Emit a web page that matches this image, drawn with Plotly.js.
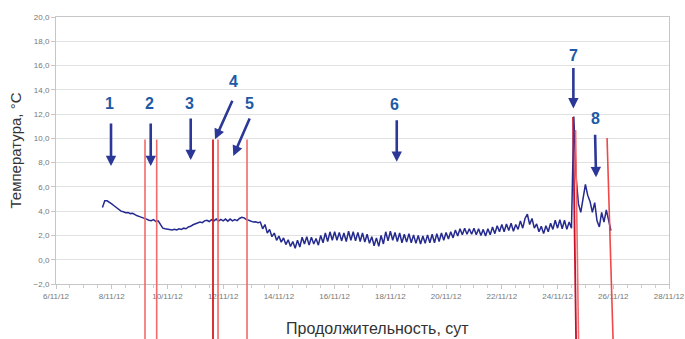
<!DOCTYPE html>
<html><head><meta charset="utf-8">
<script src="https://cdn.plot.ly/plotly-3.0.1.min.js"></script>
<style>html,body{margin:0;padding:0;background:#fff;}#chart{width:685px;height:339px;}</style>
</head><body><div id="chart"></div>
<script>
// ---- DATA: temperature readings, one every 2 hours, one array per day ----
const sampleDays = ['2012-11-07','2012-11-08','2012-11-09','2012-11-10','2012-11-11','2012-11-12',
  '2012-11-13','2012-11-14','2012-11-15','2012-11-16','2012-11-17','2012-11-18','2012-11-19',
  '2012-11-20','2012-11-21','2012-11-22','2012-11-23','2012-11-24','2012-11-25'];
const firstHour = 16; // first reading on 7/11 at 16:00
const temp07 = [4.3,4.85,4.85,4.75];
const temp08 = [4.6,4.45,4.3,4.12,4.0,3.95,3.88,3.9,3.8,3.82,3.7,3.62];
const temp09 = [3.55,3.5,3.42,3.35,3.25,3.22,3.3,3.15,3.2,2.85,2.6,2.55];
const temp10 = [2.5,2.45,2.45,2.5,2.45,2.55,2.5,2.6,2.55,2.7,2.75,2.88];
const temp11 = [2.95,3.0,3.1,3.05,3.2,3.25,3.15,3.3,3.2,3.35,3.18,3.32];
const temp12 = [3.2,3.35,3.18,3.35,3.2,3.3,3.22,3.4,3.5,3.45,3.3,3.25];
const temp13 = [3.15,3.1,3.12,3.05,3.1,2.55,2.9,2.2,2.5,1.9,2.2,1.6];
const temp14 = [1.95,1.45,1.8,1.25,1.65,1.1,1.5,0.95,1.6,1.05,1.85,1.3];
const temp15 = [1.9,1.2,1.85,1.3,1.75,1.2,2.0,1.4,2.2,1.5,2.3,1.6];
const temp16 = [2.3,1.6,2.25,1.55,2.2,1.5,2.35,1.6,2.3,1.55,2.25,1.5];
const temp17 = [2.2,1.45,2.1,1.35,1.9,1.15,1.8,1.1,2.0,1.3,2.3,1.55];
const temp18 = [2.35,1.6,2.25,1.5,2.2,1.4,2.1,1.45,2.15,1.4,2.05,1.35];
const temp19 = [2.0,1.3,1.95,1.35,2.05,1.4,2.1,1.4,2.15,1.5,2.2,1.6];
const temp20 = [2.25,1.7,2.3,1.8,2.45,1.95,2.55,2.05,2.6,2.1,2.55,2.1];
const temp21 = [2.6,2.05,2.55,2.0,2.5,1.95,2.55,2.05,2.7,2.15,2.8,2.3];
const temp22 = [2.9,2.3,2.95,2.4,3.0,2.35,2.9,2.5,3.2,2.6,3.4,3.75];
const temp23 = [2.9,3.4,2.6,2.95,2.3,2.75,2.15,2.8,2.3,3.0,2.5,3.25];
const temp24 = [2.6,3.3,2.55,3.25,2.5,3.1,2.6,11.8,6.8,4.6,3.9,5.0];
const temp25 = [6.2,5.3,4.8,3.9,4.7,3.2,2.7,3.9,3.1,4.1,3.3,2.4];
const dailyTemps = [temp07,temp08,temp09,temp10,temp11,temp12,temp13,temp14,temp15,temp16,
  temp17,temp18,temp19,temp20,temp21,temp22,temp23,temp24,temp25];

// numbered arrows: time and temperature the arrow points at
const arrowLabels = ['1','2','3','4','5','6','7','8'];
const arrowTimes = ['2012-11-07 23:23','2012-11-09 09:35','2012-11-10 20:02','2012-11-11 16:58',
  '2012-11-12 08:44','2012-11-18 05:30','2012-11-24 13:38','2012-11-25 09:11'];
const arrowTemps = [7.72,7.72,8.21,9.92,8.54,8.07,12.47,6.79];

// red event lines: top time, bottom time, top temperature
const eventTopTimes = ['2012-11-09 04:40','2012-11-09 14:44','2012-11-11 15:14','2012-11-11 19:34',
  '2012-11-12 20:32','2012-11-24 13:22','2012-11-24 15:32','2012-11-25 18:39'];
const eventBottomTimes = ['2012-11-09 04:40','2012-11-09 14:44','2012-11-11 15:14','2012-11-11 19:34',
  '2012-11-12 20:32','2012-11-24 15:58','2012-11-24 18:06','2012-11-25 23:50'];
const eventTopTemps = [9.9,9.9,9.9,9.9,9.9,11.76,10.69,10.03];

const xTickRange = ['2012-11-06','2012-11-28'];
const yTickRange = [-2,20];
const xTitle = 'Продолжительность, сут';
const yTitle = 'Температура, °С';

// ---- build series ----
const xs = [], ys = [];
dailyTemps.forEach((vals, i) => {
  const h0 = i === 0 ? firstHour : 0;
  vals.forEach((v, j) => {
    const h = h0 + 2*j;
    xs.push(sampleDays[i] + ' ' + String(h).padStart(2,'0') + ':00');
    ys.push(v);
  });
});

const trace = {x: xs, y: ys, type: 'scatter', mode: 'lines',
  line: {color: '#252a8e', width: 1.5}, hoverinfo: 'skip', showlegend: false};

const font = 'Arial, Liberation Sans, sans-serif';

// arrow styling (pixel offsets relative to the arrow head)
const arrowTail = [[0,-44],[0,-44],[0,-43],[18,-40],[17,-39],[0,-43],[0,-42],[-1,-44]];
const labelShift = [[-2,63],[-1,63],[-1,57],[18,58],[16,53],[-2,57],[0,53],[-1,59]];

const annotations = [];
arrowLabels.forEach((lab, i) => {
  annotations.push({x: arrowTimes[i], y: arrowTemps[i], xref: 'x', yref: 'y', text: '',
    showarrow: true, ax: arrowTail[i][0], ay: arrowTail[i][1], axref: 'pixel', ayref: 'pixel',
    arrowhead: 2, arrowsize: 0.8, arrowwidth: 2.6, arrowcolor: '#2c3897', standoff: 0});
  annotations.push({x: arrowTimes[i], y: arrowTemps[i], xref: 'x', yref: 'y', text: lab,
    showarrow: false, xshift: labelShift[i][0], yshift: labelShift[i][1],
    font: {family: font, size: 16, color: '#1d5aa6', weight: 'bold'}});
});
// x-axis title (placed as in the original, slightly right of centre)
annotations.push({text: xTitle, xref: 'paper', yref: 'paper', x: 0.524, y: -0.165,
  xanchor: 'center', yanchor: 'middle', showarrow: false,
  font: {family: font, size: 16, color: '#333'}});

const paperOf = v => (v - yTickRange[0]) / (yTickRange[1] - yTickRange[0]);
const eventStyle = [
  {color: '#f26a6a', width: 1.6}, {color: '#f26a6a', width: 1.6}, {color: '#d61c1c', width: 1.8},
  {color: '#f26a6a', width: 1.6}, {color: '#f26a6a', width: 1.6}, {color: '#c8102a', width: 1.8},
  {color: '#f26a6a', width: 1.6}, {color: '#f04848', width: 1.6}];
const shapes = eventTopTimes.map((t, i) => ({
  type: 'line', xref: 'x', yref: 'paper', layer: 'above',
  x0: eventBottomTimes[i], y0: -0.21, x1: t, y1: paperOf(eventTopTemps[i]),
  line: eventStyle[i]}));

const layout = {
  width: 685, height: 339,
  margin: {l: 56, r: 16, t: 17, b: 55},
  paper_bgcolor: '#fff', plot_bgcolor: '#fff',
  separators: ', ',
  font: {family: font},
  showlegend: false,
  xaxis: {
    type: 'date', range: xTickRange, tick0: xTickRange[0], dtick: 2*86400000,
    tickformat: '%-d/%m/%y', showgrid: false, zeroline: false,
    showline: true, linecolor: '#c6c6c6', linewidth: 1, mirror: true,
    ticks: 'outside', ticklen: 4, tickcolor: '#c6c6c6',
    minor: {dtick: 43200000, ticks: 'outside', ticklen: 3, tickcolor: '#cfcfcf', showgrid: false},
    tickfont: {family: font, size: 8, color: '#777'}
  },
  yaxis: {
    range: yTickRange, dtick: 2, tick0: 0, tickformat: '.1f',
    showgrid: true, gridcolor: '#e1e1e1', gridwidth: 1, zeroline: false,
    showline: true, linecolor: '#c6c6c6', linewidth: 1, mirror: true,
    ticks: 'outside', ticklen: 4, tickcolor: '#c6c6c6',
    tickfont: {family: font, size: 8, color: '#777'},
    title: {text: yTitle, font: {family: font, size: 15, color: '#333'}, standoff: 8}
  },
  annotations: annotations,
  shapes: shapes
};

Plotly.newPlot('chart', [trace], layout, {displayModeBar: false, staticPlot: true});
</script>
</body></html>
